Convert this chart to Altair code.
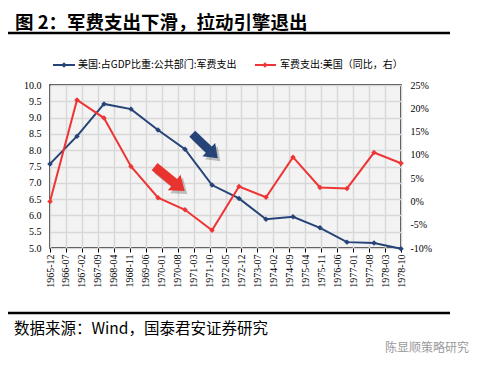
import altair as alt
import pandas as pd

# ---- data ----
tick_labels = ["1965-12", "1966-07", "1967-02", "1967-09", "1968-04", "1968-11",
               "1969-06", "1970-01", "1970-08", "1971-03", "1971-10", "1972-05",
               "1972-12", "1973-07", "1974-02", "1974-09", "1975-04", "1975-11",
               "1976-06", "1977-01", "1977-08", "1978-03", "1978-10"]
gdp_share = [7.58, 8.43, 9.42, 9.26, 8.62, 8.03, 6.93, 6.52, 5.88, 5.96, 5.62, 5.18, 5.15, 4.98]
yoy_pct = [0.0, 21.8, 17.9, 7.5, 0.8, -1.8, -6.2, 3.2, 0.9, 9.5, 3.0, 2.8, 10.5, 8.2]

left_ticks = [5.0, 5.5, 6.0, 6.5, 7.0, 7.5, 8.0, 8.5, 9.0, 9.5, 10.0]
right_ticks = [-10, -5, 0, 5, 10, 15, 20, 25]

title_text = "图 2：军费支出下滑，拉动引擎退出"
legend_blue = "美国:占GDP比重:公共部门:军费支出"
legend_red = "军费支出:美国（同比，右）"
source_text = "数据来源：Wind，国泰君安证券研究"
watermark = "陈显顺策略研究"

BLUE = "#264478"
RED = "#ee3535"

span = 7 * (len(tick_labels) - 1)  # months covered by the axis
n = len(gdp_share)
df = pd.DataFrame({
    "m": [i * span / (n - 1) for i in range(n)],
    "gdp": gdp_share,
    "yoy": yoy_pct,
})

xscale = alt.Scale(domain=[0, span], nice=False, zero=False)
lscale = alt.Scale(domain=[5, 10], nice=False, zero=False)
rscale = alt.Scale(domain=[-10, 25], nice=False, zero=False)

label_arr = "[" + ",".join("'%s'" % s for s in tick_labels) + "]"
x_axis = alt.Axis(
    values=[7 * k for k in range(len(tick_labels))],
    labelExpr=label_arr + "[round(datum.value/7)]",
    labelAngle=270, labelAlign="right", labelBaseline="middle",
    labelFont="Liberation Serif", labelFontSize=10, labelColor="black",
    labelOverlap=False, labelPadding=2, ticks=True, tickSize=4, tickColor="black",
    domain=False, grid=True, gridColor="#d8d8d8", gridWidth=1.5, title=None,
)
left_axis = alt.Axis(
    values=left_ticks, format=".1f", orient="left",
    labelFont="Liberation Serif", labelFontSize=10, labelColor="black",
    labelOverlap=False, labelPadding=9, ticks=False, domain=False,
    grid=True, gridColor="#d8d8d8", gridWidth=1.5, title=None,
)
right_axis = alt.Axis(
    values=right_ticks, labelExpr="datum.value + '%'", orient="right",
    labelFont="Liberation Serif", labelFontSize=10, labelColor="black",
    labelOverlap=False, labelPadding=9, ticks=False, domain=False,
    grid=False, title=None,
)

base = alt.Chart(df)

blue = base.mark_line(
    color=BLUE, strokeWidth=2,
    point=alt.OverlayMarkDef(shape="diamond", size=30, filled=True, color=BLUE),
).encode(
    x=alt.X("m:Q", scale=xscale, axis=x_axis),
    y=alt.Y("gdp:Q", scale=lscale, axis=left_axis),
)

red = base.mark_line(
    color=RED, strokeWidth=2,
    point=alt.OverlayMarkDef(shape="diamond", size=30, filled=True, color=RED),
).encode(
    x=alt.X("m:Q", scale=xscale, axis=x_axis),
    y=alt.Y("yoy:Q", scale=rscale, axis=right_axis),
)

# arrows (annotation positions in data units of the left axis)
arrow_path = "M -1 -0.24 L 0.3 -0.24 L 0.3 -0.52 L 1 0 L 0.3 0.52 L 0.3 0.24 L -1 0.24 Z"
arrows = pd.DataFrame({
    "m": [68.0, 52.5],
    "gdp": [8.13, 7.12],
})


def arrow_layer(idx, color, size, angle, shadow=False):
    d = arrows.iloc[[idx]]
    kw = dict(shape=arrow_path, filled=True, size=size, angle=angle, strokeWidth=0)
    if shadow:
        kw.update(color="#555555", opacity=0.35, xOffset=2.5, yOffset=3)
    else:
        kw.update(color=color, opacity=1)
    return alt.Chart(d).mark_point(**kw).encode(
        x=alt.X("m:Q", scale=xscale, axis=x_axis),
        y=alt.Y("gdp:Q", scale=lscale, axis=left_axis),
    )


left = alt.layer(
    blue,
    arrow_layer(0, BLUE, 1250, 44, True), arrow_layer(0, BLUE, 1250, 44),
    arrow_layer(1, RED, 1500, 39, True), arrow_layer(1, "#e8332e", 1500, 39),
)

one = alt.Data(values=[{}])


def txt(s, x, y, size, color="black", weight="normal", font="Noto Sans CJK SC", align="left"):
    return alt.Chart(one).mark_text(
        text=s, align=align, baseline="middle", fontSize=size, font=font,
        fontWeight=weight, color=color,
    ).encode(x=alt.value(x), y=alt.value(y))


def rule(x1, x2, y, color, w):
    return alt.Chart(one).mark_rule(color=color, strokeWidth=w).encode(
        x=alt.value(x1), x2=alt.value(x2), y=alt.value(y))


def dot(x, y, color):
    return alt.Chart(one).mark_point(shape="diamond", size=30, filled=True, color=color,
                                     opacity=1).encode(x=alt.value(x), y=alt.value(y))


deco = alt.layer(
    txt(title_text, -35, -62, 18.5, weight="bold"),
    rule(-42, 400, -52, "black", 2.5),
    rule(3, 25, -20, BLUE, 2), dot(14, -20, BLUE),
    txt(legend_blue, 28, -20, 10),
    rule(205, 226, -20, RED, 2), dot(215, -20, RED),
    txt(legend_red, 230, -20, 10),
    rule(-42, 400, 228, "black", 2.5),
    txt(source_text, -36, 244, 15.5),
    txt(watermark, 335, 263, 12, color="#9a9a9a"),
)

chart = alt.layer(left, red, deco).resolve_scale(y="independent").properties(
    width=351, height=163,
    padding={"left": 42, "top": 77, "right": 75, "bottom": 114},
    autosize=alt.AutoSizeParams(type="none"),
    background="white",
).configure_view(stroke="black", strokeWidth=1.5, fill="#f3f3f3")

chart.save("out.html", embed_options={"renderer": "svg", "actions": False})
